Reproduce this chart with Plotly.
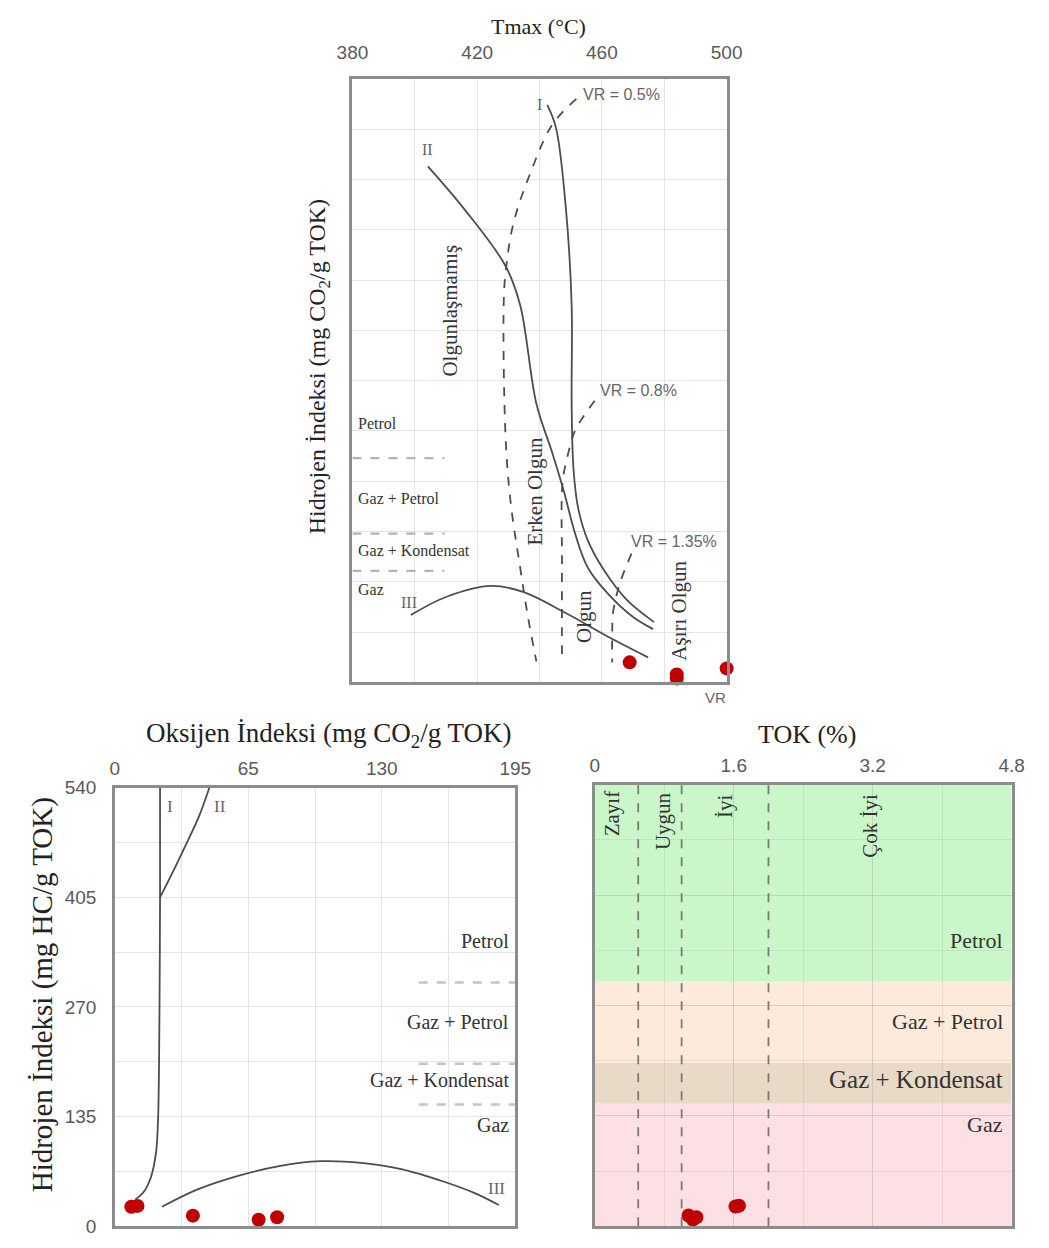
import plotly.graph_objects as go

# ---------------- DATA ----------------
# Top panel: Tmax vs HI (maturity diagram)
tmax_ticks = [380, 420, 460, 500]
typeI_tmax = [442.5, 445.3, 448.4, 450.3, 450.3, 450.9, 452.4, 455.5, 460.8, 468.0, 476.7]
typeI_hi = [574, 551, 473, 375, 277, 212, 173, 141, 111, 82, 60]
typeII_tmax = [404.2, 416.0, 429.1, 433.8, 439.0, 444.0, 447.8, 451.5, 455.5, 461.7, 470.0, 476.4]
typeII_hi = [513, 470, 414, 375, 277, 229, 190, 147, 114, 89, 65, 53]
typeIII_tmax = [398.7, 410.0, 424.5, 434.7, 448.4, 461.7, 474.8]
typeIII_hi = [67, 85, 96, 90, 69, 46, 25]
vr05_tmax = [451.8, 444.0, 436.9, 431.6, 429.1, 428.5, 429.1, 430.7, 433.8, 436.3, 439.0]
vr05_hi = [580, 554, 505, 456, 407, 375, 245, 180, 114, 65, 21]
vr08_tmax = [457.7, 451.5, 449.3, 447.4, 447.2, 447.2]
vr08_hi = [280, 251, 229, 199, 120, 23]
vr135_tmax = [469.5, 465.8, 463.6, 463.3, 463.3]
vr135_hi = [128, 99, 70, 50, 20]
top_zone_hi = [223, 148, 111]
sample_tmax = [468.9, 484.0, 484.0, 500.0]
sample_hi_top = [20, 8, 4, 14]

# Bottom-left: OI vs HI
oi_ticks = [0, 65, 130, 195]
hi_ticks = [0, 135, 270, 405, 540]
typeI_oi = [22, 22, 21.8, 21.5, 21, 20, 17.5, 14, 10]
typeI_hi2 = [540, 405, 300, 200, 130, 90, 60, 42, 33]
typeII_oi = [22, 28, 35, 41, 46]
typeII_hi2 = [405, 435, 472, 505, 540]
typeIII_oi = [23, 40, 60, 80, 100, 120, 140, 160, 175, 187]
typeIII_hi2 = [24, 45, 62, 74, 80, 78, 70, 55, 41, 26]
zone_hi = [300, 200, 150]
sample_oi = [8, 11, 38, 70, 79]
sample_hi = [24, 25, 13, 8, 11]

# Bottom-right: TOK vs HI
tok_ticks = [0, 1.6, 3.2, 4.8]
tok_limits = [0.5, 1.0, 2.0]
band_hi = [0, 150, 200, 300, 540]
band_colors = ["#fde0e4", "#e8dac6", "#fdeada", "#c9f7c9"]
sample_tok = [1.62, 1.66, 1.08, 1.13, 1.17]
sample_hi_tok = [24, 25, 13, 8, 11]

# ---------------- FIGURE ----------------
W, H = 1049, 1248
def px(x):
    return x / W
def py(y):
    return 1 - y / H

SERIF = "Liberation Serif, Times New Roman, serif"
SANS = "Liberation Sans, Arial, sans-serif"
CURVE = "#4d4d4d"
TICKC = "#595959"
FRAME = "#8c8c8c"
GRID = "#e4e4e4"
RED = "#c00000"
CLEAR = "rgba(0,0,0,0)"

fig = go.Figure()

def line(x, y, xa, ya, dash="solid", color=CURVE, width=1.8, shape="spline"):
    fig.add_trace(go.Scatter(x=x, y=y, xaxis=xa, yaxis=ya, mode="lines",
                             line=dict(color=color, width=width, dash=dash, shape=shape),
                             hoverinfo="skip", showlegend=False))

# --- top panel
line(typeI_tmax, typeI_hi, "x", "y")
line(typeII_tmax, typeII_hi, "x", "y")
line(typeIII_tmax, typeIII_hi, "x", "y")
line(vr05_tmax, vr05_hi, "x", "y", dash="dash")
line(vr08_tmax, vr08_hi, "x", "y", dash="dash")
line(vr135_tmax, vr135_hi, "x", "y", dash="dash")
for h in top_zone_hi:
    line([380, 409.5], [h, h], "x", "y", dash="dash", color="#b3b3b3", width=2.2, shape="linear")
fig.add_trace(go.Scatter(x=sample_tmax, y=sample_hi_top, xaxis="x", yaxis="y", mode="markers",
                         marker=dict(color=RED, size=14), cliponaxis=False, showlegend=False))

# --- bottom-left
line(typeI_oi, typeI_hi2, "x2", "y2")
line(typeII_oi, typeII_hi2, "x2", "y2")
line(typeIII_oi, typeIII_hi2, "x2", "y2")
for h in zone_hi:
    line([148, 195], [h, h], "x2", "y2", dash="dash", color="#c4c4c4", width=2.5, shape="linear")
fig.add_trace(go.Scatter(x=sample_oi, y=sample_hi, xaxis="x2", yaxis="y2", mode="markers",
                         marker=dict(color=RED, size=14), cliponaxis=False, showlegend=False))

# --- bottom-right
shapes = []
for i in range(len(band_colors)):
    shapes.append(dict(type="rect", xref="x3", yref="y3", x0=0, x1=4.8,
                       y0=band_hi[i], y1=band_hi[i + 1], fillcolor=band_colors[i],
                       line=dict(width=0), layer="below"))
for t in tok_limits:
    line([t, t], [0, 540], "x3", "y3", dash="dash", color="#7a7a7a", width=1.8, shape="linear")
fig.add_trace(go.Scatter(x=sample_tok, y=sample_hi_tok, xaxis="x3", yaxis="y3", mode="markers",
                         marker=dict(color=RED, size=14), cliponaxis=False, showlegend=False))

# ---------------- AXES ----------------
tickfont = dict(family=SANS, size=19, color=TICKC)
common = dict(showline=True, linecolor=FRAME, linewidth=2.5, mirror=True, zeroline=False,
              gridcolor=GRID, gridwidth=1, tickfont=tickfont, tickcolor=CLEAR)
soft = "rgba(170,170,170,0.25)"

fig.update_layout(
    xaxis=dict(domain=[px(347), px(733)], range=[380, 500], tickvals=tmax_ticks, side="top",
               anchor="y", ticks="outside", ticklen=9,
               minor=dict(dtick=20, showgrid=True, gridcolor=GRID, ticks=""), **common),
    yaxis=dict(domain=[py(684), py(70)], range=[0, 600], dtick=50, showticklabels=False,
               anchor="x", ticks="", **common),
    xaxis2=dict(domain=[px(102), px(515)], range=[0, 195], tickvals=oi_ticks, side="top",
                anchor="y2", ticks="outside", ticklen=2,
                minor=dict(dtick=32.5, showgrid=True, gridcolor=GRID, ticks=""), **common),
    yaxis2=dict(domain=[py(1237), py(791)], range=[0, 540], tickvals=hi_ticks, anchor="x2",
                ticks="outside", ticklen=12,
                minor=dict(dtick=67.5, showgrid=True, gridcolor=GRID, ticks=""), **common),
    xaxis3=dict(domain=[px(597), px(1027)], range=[0, 4.8], tickvals=tok_ticks, side="top",
                anchor="y3", ticks="outside", ticklen=2,
                minor=dict(dtick=0.8, showgrid=True, gridcolor=soft, ticks=""),
                **{**common, "gridcolor": soft}),
    yaxis3=dict(domain=[py(1237), py(788)], range=[0, 540], tickvals=hi_ticks, showticklabels=False,
                anchor="x3", ticks="",
                minor=dict(dtick=67.5, showgrid=True, gridcolor=soft, ticks=""),
                **{**common, "gridcolor": soft}),
    width=W, height=H, margin=dict(l=0, r=0, t=0, b=0),
    paper_bgcolor="white", plot_bgcolor="white", showlegend=False, shapes=shapes,
)

# ---------------- ANNOTATIONS ----------------
ann = []
def A(text, x, y, xref, yref, size=16, color="#333333", family=SERIF, angle=0, xanchor="center", yanchor="middle"):
    ann.append(dict(text=text, x=x, y=y, xref=xref, yref=yref, showarrow=False, textangle=angle,
                    font=dict(family=family, size=size, color=color), xanchor=xanchor, yanchor=yanchor))

# titles
A("Tmax (°C)", px(539), py(17), "paper", "paper", size=22, color="#222222")
A("Hidrojen İndeksi (mg CO<sub>2</sub>/g TOK)", px(312), py(363), "paper", "paper", size=24, color="#222222", angle=-90)
A("Oksijen İndeksi (mg CO<sub>2</sub>/g TOK)", px(322), py(737), "paper", "paper", size=27, color="#222222")
A("Hidrojen İndeksi (mg HC/g TOK)", px(27), py(1002), "paper", "paper", size=29, color="#222222", angle=-90)
A("TOK (%)", px(816), py(737), "paper", "paper", size=26, color="#222222")

# top panel labels
A("II", 404, 530, "x", "y", size=16, color="#666666")
A("I", 440, 574, "x", "y", size=16, color="#666666")
A("III", 398, 80, "x", "y", size=16, color="#666666")
A("VR = 0.5%", 453.3, 584, "x", "y", size=16, color="#666666", family=SANS, xanchor="left")
A("VR = 0.8%", 458.6, 290, "x", "y", size=16, color="#666666", family=SANS, xanchor="left")
A("VR = 1.35%", 468.6, 140, "x", "y", size=16, color="#666666", family=SANS, xanchor="left")
A("VR", 496.5, -0.025, "x", "y domain", size=15, color="#666666", family=SANS)
A("Petrol", 381.3, 257, "x", "y", size=16, xanchor="left")
A("Gaz + Petrol", 381.3, 183, "x", "y", size=16, xanchor="left")
A("Gaz + Kondensat", 381.3, 131, "x", "y", size=16, xanchor="left")
A("Gaz", 381.3, 92, "x", "y", size=16, xanchor="left")
A("Olgunlaşmamış", 411.4, 370, "x", "y", size=21, angle=-90)
A("Erken Olgun", 438.6, 190, "x", "y", size=21, angle=-90)
A("Olgun", 454.2, 66, "x", "y", size=21, angle=-90)
A("Aşırı Olgun", 484.6, 71, "x", "y", size=21, angle=-90)

# bottom-left labels
A("I", 27, 517, "x2", "y2", size=17, color="#666666")
A("II", 51, 517, "x2", "y2", size=17, color="#666666")
A("III", 186, 47, "x2", "y2", size=17, color="#666666")
A("Petrol", 193, 351, "x2", "y2", size=20, xanchor="right")
A("Gaz + Petrol", 193, 251, "x2", "y2", size=20, xanchor="right")
A("Gaz + Kondensat", 193, 180, "x2", "y2", size=20, xanchor="right")
A("Gaz", 193, 125, "x2", "y2", size=20, xanchor="right")

# bottom-right labels
A("Zayıf", 0.2, 504, "x3", "y3", size=21, angle=-90)
A("Uygun", 0.78, 495, "x3", "y3", size=21, angle=-90)
A("İyi", 1.5, 513, "x3", "y3", size=21, angle=-90)
A("Çok İyi", 3.17, 490, "x3", "y3", size=21, angle=-90)
A("Petrol", 4.72, 349, "x3", "y3", size=22, xanchor="right")
A("Gaz + Petrol", 4.72, 250, "x3", "y3", size=22, xanchor="right")
A("Gaz + Kondensat", 4.72, 179, "x3", "y3", size=25, xanchor="right")
A("Gaz", 4.72, 124, "x3", "y3", size=22, xanchor="right")

fig.update_layout(annotations=ann)
fig.write_html("out.html")
